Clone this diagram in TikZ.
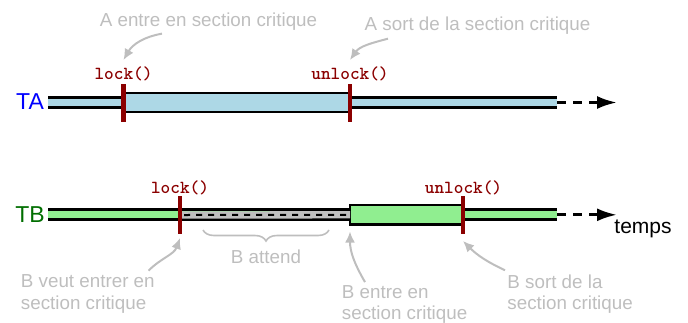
\documentclass[tikz,border=0pt]{standalone}
\usepackage{fontspec}
\setmainfont{Liberation Sans}
\newfontfamily\codefont{lmmonolt10-bold.otf}
\usetikzlibrary{arrows.meta,decorations.pathreplacing}
\definecolor{notegray}{RGB}{190,190,190}
\definecolor{codered}{RGB}{139,0,0}
\definecolor{tbgreen}{RGB}{0,110,0}
\definecolor{barblue}{RGB}{173,216,230}
\definecolor{bargreen}{RGB}{144,238,144}
\definecolor{waitgray}{RGB}{192,192,192}
\begin{document}
\begin{tikzpicture}[x=0.5pt,y=0.5pt,
  threadlabel/.style={font=\fontsize{11.5}{12}\selectfont, inner sep=0},
  codelabel/.style={font=\fontsize{9.2}{10}\selectfont\codefont, text=codered, inner sep=0},
  note/.style={font=\fontsize{9.4}{10.6}\selectfont, text=notegray, inner sep=0, align=left},
  notearrow/.style={draw=notegray, line width=1pt, -{Latex[length=5.5pt,width=5pt]}},
  tickmark/.style={fill=codered, draw=none, minimum width=2.2pt, minimum height=19pt, inner sep=0, outer sep=0},
  critbox/.style={draw=black, line width=1.2pt, minimum height=9.75pt, inner sep=0, outer sep=0},
  barout/.style={line width=6.35pt, draw=black},
  barin/.style={line width=3.65pt},
  timearrow/.style={line width=1.5pt, dash pattern=on 4.5pt off 3.5pt, -{Latex[length=10pt,width=6.5pt]}},
  bracestyle/.style={draw=notegray, line width=0.8pt, decorate, decoration={brace, amplitude=5.5pt}}
]
\useasboundingbox (0,0) rectangle (688,322);

% free ends of the time lines
\coordinate (A0) at (48,219.5);
\coordinate (A1) at (557,219.5);
\coordinate (A2) at (617,219.5);
\coordinate (B0) at (48,107.2);
\coordinate (B1) at (557,107.2);
\coordinate (B2) at (617,107.2);

% thread labels
\node[threadlabel, text=blue] (TA) at (30,220.3) {TA};
\node[threadlabel, text=tbgreen] (TB) at (30,107) {TB};

% thin bars
\draw[barout] (A0) -- (A1);
\draw[barin, barblue] (A0) -- (A1);
\draw[barout] (B0) -- (B1);
\draw[barin, bargreen] (B0) -- (B1);

% time arrows
\draw[timearrow] (A1) -- (A2);
\draw[timearrow] (B1) -- (B2);

% critical sections
\node[critbox, fill=barblue, minimum width=113.25pt] (csA) at (236.75,219.5) {};
\node[critbox, fill=bargreen, minimum width=56.5pt] (csB) at (406.5,107.2) {};

% ticks
\node[tickmark] (tA1) at (123.5,219.5) {};
\node[tickmark] (tA2) at (350,219.5) {};
\node[tickmark] (tB1) at (180,107) {};
\node[tickmark] (tB2) at (463,107) {};

% waiting segment
\draw[barin, waitgray] (tB1.east) -- (csB.west);
\draw[line width=1pt, dash pattern=on 3pt off 3pt] ([xshift=1pt]tB1.east) -- (csB.west);

% code labels
\node[codelabel] (lA) at (123.5,248.5) {lock()};
\node[codelabel] (uA) at (350,248.5) {unlock()};
\node[codelabel] (lB) at (180,134.5) {lock()};
\node[codelabel] (uB) at (463.5,134.5) {unlock()};

% time label
\node[font=\fontsize{10.5}{12}\selectfont, inner sep=0, anchor=west] (temps) at (614,93.5) {temps};

% notes
\node[note] (nA1) at (208.5,300.5) {A entre en section critique};
\node[note] (nA2) at (477.5,296.5) {A sort de la section critique};
\node[note, anchor=west] (nB1) at (20.5,28) {B veut entrer en\\section critique};
\node[note, anchor=west] (nB2) at (341.5,17.5) {B entre en\\section critique};
\node[note, anchor=west] (nB3) at (507,28) {B sort de la\\section critique};
\node[note] (wait) at (266,65.5) {B attend};

% brace
\draw[bracestyle] (329,92) -- (203,92);

% note arrows
\draw[notearrow] ([shift={(-46.5,-3)}]nA1.south) to[out=190,in=60] ([yshift=3pt]lA.north);
\draw[notearrow] ([shift={(-89.5,-4)}]nA2.south) to[out=195,in=55] ([yshift=3pt]uA.north);
\draw[notearrow] ([shift={(-6.5,4)}]nB1.north east) to[out=45,in=250] ([yshift=-2pt]tB1.south);
\draw[notearrow] ([shift={(23.5,3)}]nB2.north west) to[out=120,in=-90] ([yshift=-3.5pt]csB.south west);
\draw[notearrow] ([shift={(-2,4)}]nB3.north west) to[out=155,in=-45] ([yshift=-3.5pt]tB2.south);
\end{tikzpicture}
\end{document}
